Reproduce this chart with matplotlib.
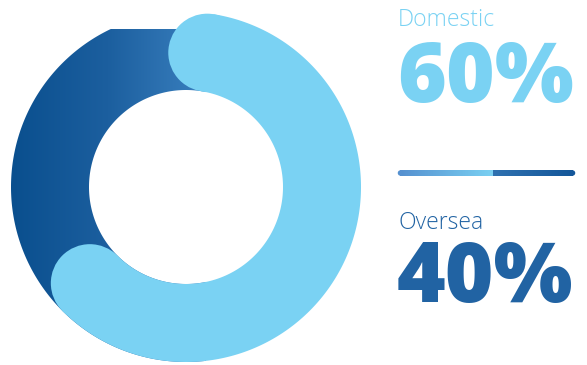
import numpy as np
import matplotlib
matplotlib.use("Agg")
import matplotlib.pyplot as plt
from matplotlib.path import Path
from matplotlib.patches import PathPatch, Circle
from matplotlib.colors import LinearSegmentedColormap

# ---- data ----
labels = ["Domestic", "Oversea"]
values = [60, 40]
value_text = ["60%", "40%"]
colors_text = ["#7ad2f3", "#2163a3"]

W, H = 587, 365
fig = plt.figure(figsize=(W / 100, H / 100), dpi=100)
ax = fig.add_axes([0, 0, 1, 1])
ax.set_xlim(0, W)
ax.set_ylim(H, 0)
ax.axis("off")

cx, cy = 186, 187
r_out, r_in = 175, 97
r_mid = (r_out + r_in) / 2
half_w = (r_out - r_in) / 2
start_deg = 81.0
light = "#7ad2f3"

def pt(r, a_deg):
    a = np.radians(a_deg)
    return cx + r * np.cos(a), cy - r * np.sin(a)

# ---- dark ring (gradient) ----
th = np.linspace(0, 2 * np.pi, 400)
outer = np.column_stack([cx + r_out * np.cos(th), cy - r_out * np.sin(th)])
inner = np.column_stack([cx + r_in * np.cos(th[::-1]), cy - r_in * np.sin(th[::-1])])
verts = np.vstack([outer, [outer[0]], inner, [inner[0]]])
codes = ([Path.MOVETO] + [Path.LINETO] * (len(outer) - 1) + [Path.CLOSEPOLY]
         + [Path.MOVETO] + [Path.LINETO] * (len(inner) - 1) + [Path.CLOSEPOLY])
ring = PathPatch(Path(verts, codes), facecolor="none", edgecolor="none")
ax.add_patch(ring)
cmap = LinearSegmentedColormap.from_list("dk", ["#0a4f8e", "#1c5f9f", "#3a80bf"])
grad = np.linspace(0, 1, 256).reshape(1, -1)
im = ax.imshow(grad, cmap=cmap, extent=(cx - r_out, cx + 20, cy + r_out, 29),
               aspect="auto", interpolation="bilinear", zorder=1)
im.set_clip_path(ring)

# ---- light arc with round caps ----
sweep = 360 * values[0] / sum(values)
a = np.linspace(start_deg, start_deg - sweep, 300)
o = np.array([pt(r_out, x) for x in a])
i = np.array([pt(r_in, x) for x in a[::-1]])
poly = np.vstack([o, i])
ax.fill(poly[:, 0], poly[:, 1], color=light, lw=0, zorder=2)
for ang in (start_deg, start_deg - sweep):
    ax.add_patch(Circle(pt(r_mid, ang), half_w, color=light, lw=0, zorder=2))

# ---- separator line with gradient ----
x0, x1, xm, ly, lw = 400, 573, 493, 173, 5.5
sep_l = LinearSegmentedColormap.from_list("sl", ["#5591d0", "#7ad0f2"])
sep_r = LinearSegmentedColormap.from_list("sr", ["#2f71b0", "#14579a"])
g = np.linspace(0, 1, 128).reshape(1, -1)
ax.imshow(g, cmap=sep_l, extent=(x0, xm, ly + lw / 2, ly - lw / 2), aspect="auto", zorder=3)
ax.imshow(g, cmap=sep_r, extent=(xm, x1, ly + lw / 2, ly - lw / 2), aspect="auto", zorder=3)
ax.add_patch(Circle((x0 + 0.5, ly), lw / 2, color="#5591d0", lw=0, zorder=3))
ax.add_patch(Circle((x1 - 0.5, ly), lw / 2, color="#14579a", lw=0, zorder=3))

# ---- texts ----
small = dict(fontsize=16.5, family="Open Sans", fontweight="light", va="baseline", ha="left")
big = dict(fontsize=60, family="Open Sans", fontweight="extra bold", va="baseline", ha="left")
ax.text(398, 26, labels[0], color=colors_text[0], **small)
ax.text(397, 102, value_text[0], color=colors_text[0], **big)
ax.text(398, 229, labels[1], color=colors_text[1], **small)
ax.text(397, 302, value_text[1], color=colors_text[1], **big)

ax.set_xlim(0, W)
ax.set_ylim(H, 0)
fig.savefig("out.png", dpi=100)
